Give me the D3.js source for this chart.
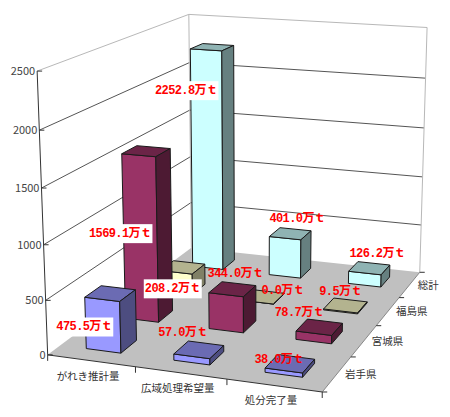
<!DOCTYPE html>
<html>
<head>
<meta charset="utf-8">
<script src="https://cdn.jsdelivr.net/npm/d3@7"></script>
<style>
html, body { margin: 0; padding: 0; background: #fff; }
svg { display: block; }
text { font-family: "Noto Sans CJK JP", sans-serif; }
</style>
</head>
<body>
<div id="chart"></div>
<script>
// data
var categories = ["がれき推計量", "広域処理希望量", "処分完了量"];
var prefectures = ["岩手県", "宮城県", "福島県", "総計"];
var iwate = [475.5, 57.0, 38.0];
var miyagi = [1569.1, 344.0, 78.7];
var fukushima = [208.2, 0.0, 9.5];
var total = [2252.8, 401.0, 126.2];
var valueTicks = [0, 500, 1000, 1500, 2000, 2500];

// face colours per prefecture: front, top, side
var faceColors = [
  ["#9999ff", "#6b6bb3", "#4d4d80"],
  ["#993366", "#6b2447", "#4d1a33"],
  ["#ffffcc", "#b3b38f", "#808066"],
  ["#ccffff", "#8fb3b3", "#668080"]
];

// hand placed labels in the original, offset from the bar's top centre
var labelNudge = [
  [[-26, 33], [-16, -18], [-11, -5]],
  [[-26, 82], [3, -16], [-20, -15]],
  [[-10, 21], [20, -7], [-5, -14]],
  [[-26, 43], [7, -16], [8, -15]]
];

var width = 450, height = 417;

// picture of the plot box: [x, y, z] in the unit cube -> pixel
var boxCorners = [
  [0, 0, 0, 48, 354],
  [1, 0, 0, 322, 393],
  [1, 0, 1, 420, 271],
  [0, 0, 1, 191, 249],
  [0, 1, 0, 37, 71],
  [0, 1, 1, 189, 14],
  [1, 1, 1, 427, 28]
];

// least squares camera matrix from the corners
function solveCamera(pts) {
  var rows = [], rhs = [];
  pts.forEach(function(p) {
    var X = p[0], Y = p[1], Z = p[2], u = p[3], v = p[4];
    rows.push([X, Y, Z, 1, 0, 0, 0, 0, -u * X, -u * Y, -u * Z]); rhs.push(u);
    rows.push([0, 0, 0, 0, X, Y, Z, 1, -v * X, -v * Y, -v * Z]); rhs.push(v);
  });
  var n = 11, A = [];
  for (var i = 0; i < n; i++) {
    A.push([]);
    for (var j = 0; j <= n; j++) {
      var s = 0;
      rows.forEach(function(r, k) { s += r[i] * (j < n ? r[j] : rhs[k]); });
      A[i].push(s);
    }
  }
  for (i = 0; i < n; i++) {
    var best = i;
    for (j = i + 1; j < n; j++) if (Math.abs(A[j][i]) > Math.abs(A[best][i])) best = j;
    var t = A[i]; A[i] = A[best]; A[best] = t;
    for (j = 0; j < n; j++) {
      if (j === i) continue;
      var f = A[j][i] / A[i][i];
      for (var k = i; k <= n; k++) A[j][k] -= f * A[i][k];
    }
  }
  return A.map(function(r, m) { return r[n] / r[m]; });
}
var cam = solveCamera(boxCorners);

function project(x, y, z) {
  var w = cam[8] * x + cam[9] * y + cam[10] * z + 1;
  return [(cam[0] * x + cam[1] * y + cam[2] * z + cam[3]) / w,
          (cam[4] * x + cam[5] * y + cam[6] * z + cam[7]) / w];
}

var xScale = d3.scaleBand().domain(categories).range([0, 1]).paddingInner(0.6).paddingOuter(0.3);
var zScale = d3.scaleBand().domain(prefectures).range([0, 1]).paddingInner(0.6).paddingOuter(0.3);
var yScale = d3.scaleLinear().domain([0, 2500]).range([0, 1]);

var poly = d3.line();
function closed(pts) { return poly(pts) + "Z"; }

var svg = d3.select("#chart").append("svg")
  .attr("width", width)
  .attr("height", height);

// walls and floor
svg.append("path").attr("d", closed([project(0,0,0), project(0,1,0), project(0,1,1), project(0,0,1)]))
  .attr("fill", "#fff");
svg.append("path").attr("d", closed([project(0,0,1), project(0,1,1), project(1,1,1), project(1,0,1)]))
  .attr("fill", "#fff");
svg.append("path").attr("d", closed([project(0,0,0), project(1,0,0), project(1,0,1), project(0,0,1)]))
  .attr("fill", "#c0c0c0");

// gridlines
var grid = svg.append("g");
valueTicks.slice(1, -1).forEach(function(v) {
  var y = yScale(v);
  grid.append("path")
    .attr("d", poly([project(0,y,0), project(0,y,1), project(1,y,1)]))
    .attr("fill", "none").attr("stroke", "#555").attr("stroke-width", 1);
});

// box edges
var edge = svg.append("g").attr("fill", "none").attr("stroke", "#b8b8b8");
edge.append("path").attr("d", poly([project(0,1,0), project(0,1,1), project(1,1,1), project(1,0,1)]));
edge.append("path").attr("d", poly([project(0,1,1), project(0,0,1)]));
svg.append("path").attr("d", poly([project(0,1,0), project(0,0,0), project(1,0,0)]))
  .attr("fill", "none").attr("stroke", "#333");
svg.append("path").attr("d", poly([project(1,0,0), project(1,0,1)]))
  .attr("fill", "none").attr("stroke", "#888");

// value axis
valueTicks.forEach(function(v) {
  var p = project(0, yScale(v), 0);
  svg.append("line")
    .attr("x1", p[0]).attr("x2", p[0] + 5)
    .attr("y1", p[1]).attr("y2", p[1])
    .attr("stroke", "#333");
  svg.append("text")
    .attr("x", p[0] - 2).attr("y", p[1] + 4)
    .attr("text-anchor", "end")
    .attr("font-size", 11)
    .attr("fill", "#444")
    .text(v);
});

// category axis
d3.range(4).forEach(function(i) {
  var p = project(i / 3, 0, 0);
  svg.append("line").attr("x1", p[0]).attr("x2", p[0]).attr("y1", p[1]).attr("y2", p[1] + 6).attr("stroke", "#333");
});
categories.forEach(function(c) {
  var p = project(xScale(c) + xScale.bandwidth() / 2, 0, 0);
  svg.append("text")
    .attr("x", p[0] - 3).attr("y", p[1] + 19)
    .attr("text-anchor", "middle")
    .attr("font-size", 10.5)
    .attr("fill", "#333")
    .text(c);
});

// prefecture axis
d3.range(5).forEach(function(i) {
  var p = project(1, 0, i / 4);
  svg.append("line").attr("x1", p[0]).attr("x2", p[0] + 5).attr("y1", p[1]).attr("y2", p[1]).attr("stroke", "#333");
});
prefectures.forEach(function(s) {
  var p = project(1, 0, zScale(s) + zScale.bandwidth() / 2);
  svg.append("text")
    .attr("x", p[0] + 8).attr("y", p[1] + 4)
    .attr("font-size", 10.5)
    .attr("fill", "#333")
    .text(s);
});

// bars, back row first
var series = [iwate, miyagi, fukushima, total];
var bars = [];
d3.range(3, -1, -1).forEach(function(r) {
  categories.forEach(function(c, i) {
    bars.push({ row: r, col: i, cat: c, pref: prefectures[r], value: series[r][i] });
  });
});

var barG = svg.append("g").selectAll("g")
  .data(bars)
  .enter().append("g")
  .attr("stroke", "#1a1a1a")
  .attr("stroke-width", 1)
  .attr("stroke-linejoin", "round");

function faces(d) {
  var x0 = xScale(d.cat), x1 = x0 + xScale.bandwidth();
  var z0 = zScale(d.pref), z1 = z0 + zScale.bandwidth();
  var h = yScale(d.value);
  return [
    { fill: faceColors[d.row][0], pts: [project(x0,0,z0), project(x1,0,z0), project(x1,h,z0), project(x0,h,z0)] },
    { fill: faceColors[d.row][1], pts: [project(x0,h,z0), project(x1,h,z0), project(x1,h,z1), project(x0,h,z1)] },
    { fill: faceColors[d.row][2], pts: [project(x1,0,z0), project(x1,0,z1), project(x1,h,z1), project(x1,h,z0)] }
  ];
}

barG.selectAll("path")
  .data(faces)
  .enter().append("path")
  .attr("d", function(f) { return closed(f.pts); })
  .attr("fill", function(f) { return f.fill; });

// value labels on top of everything, only the first category has a white box
var labelText = function(d) { return d3.format(".1f")(d.value) + "万ｔ"; };
var labelWidth = function(d) { return d3.format(".1f")(d.value).length * 6.6 + 25; };

var labels = svg.append("g").selectAll("g")
  .data(bars)
  .enter().append("g")
  .attr("transform", function(d) {
    var p = project(xScale(d.cat) + xScale.bandwidth() / 2, yScale(d.value), zScale(d.pref) + zScale.bandwidth() / 2);
    var n = labelNudge[d.row][d.col];
    return "translate(" + (p[0] + n[0]) + "," + (p[1] + n[1]) + ")";
  });

labels.filter(function(d) { return d.col === 0; })
  .append("rect")
  .attr("x", function(d) { return -labelWidth(d) / 2; })
  .attr("width", labelWidth)
  .attr("y", -9)
  .attr("height", 19)
  .attr("fill", "#fff");

labels.append("text")
  .attr("text-anchor", "middle")
  .attr("y", 4)
  .attr("font-size", 12)
  .attr("font-weight", "bold")
  .attr("letter-spacing", -0.6)
  .attr("fill", "#ff0000")
  .style("font-family", '"Liberation Mono", "Noto Sans CJK JP", monospace')
  .text(labelText);
</script>
</body>
</html>
